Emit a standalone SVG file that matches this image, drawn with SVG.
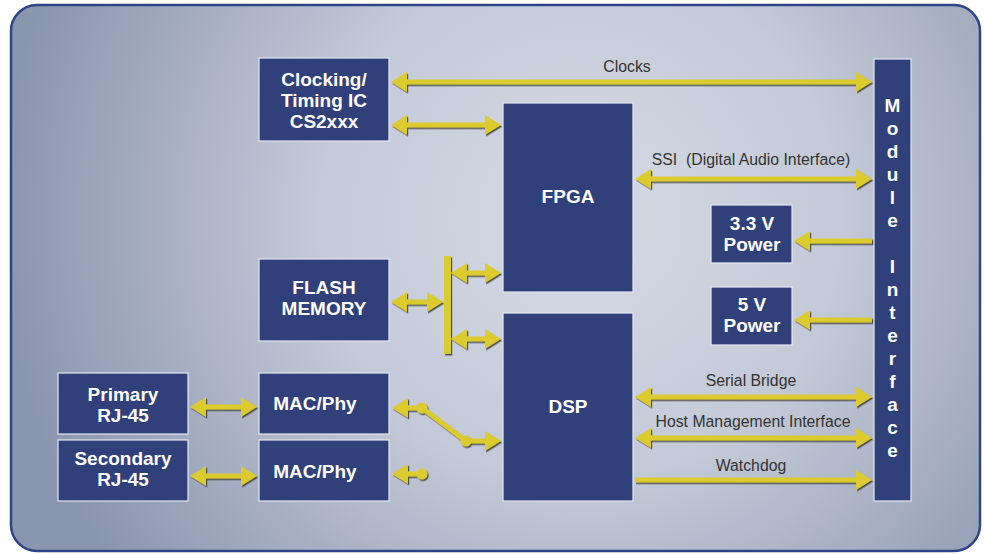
<svg xmlns="http://www.w3.org/2000/svg" width="984" height="554" viewBox="0 0 984 554">
<defs>
<radialGradient id="bg" cx="580" cy="220" r="580" gradientUnits="userSpaceOnUse">
<stop offset="0" stop-color="#d6dbe5"/>
<stop offset="0.45" stop-color="#c3c9d7"/>
<stop offset="1" stop-color="#8a96ae"/>
</radialGradient>
<filter id="sh" x="-10%" y="-50%" width="120%" height="200%">
<feDropShadow dx="1.2" dy="1.5" stdDeviation="0.6" flood-color="#3a3a30" flood-opacity="0.85"/>
</filter>
<style>
.node rect{fill:#2f407a;stroke:#e4e8f0;stroke-width:1.2}
.node text{fill:#fff;font-family:"Liberation Sans",Arial,sans-serif;font-weight:bold;font-size:19px;text-anchor:middle}
.conn polygon,.conn rect,.conn circle,.conn line{fill:#dccb2e}
.conn line{stroke:#dccb2e;stroke-width:5}
.lbl{fill:#333;font-family:"Liberation Sans",Arial,sans-serif;font-size:15.8px;text-anchor:middle}
</style>
</defs>
<rect x="11" y="5" width="969" height="546" rx="26" fill="url(#bg)" stroke="#2e4488" stroke-width="2.5"/>

<g id="clocking" class="node"><rect x="259" y="58" width="130" height="83"/><text x="324" y="86">Clocking/</text><text x="324" y="107">Timing IC</text><text x="324" y="128">CS2xxx</text></g>
<g id="fpga" class="node"><rect x="503" y="103" width="130" height="189"/><text x="568" y="203">FPGA</text></g>
<g id="flash" class="node"><rect x="259" y="259" width="130" height="82"/><text x="324" y="294">FLASH</text><text x="324" y="315">MEMORY</text></g>
<g id="dsp" class="node"><rect x="503" y="313" width="130" height="188"/><text x="568" y="413">DSP</text></g>
<g id="primary" class="node"><rect x="58" y="373" width="130" height="61"/><text x="123" y="401">Primary</text><text x="123" y="422">RJ-45</text></g>
<g id="secondary" class="node"><rect x="58" y="440" width="130" height="61"/><text x="123" y="465">Secondary</text><text x="123" y="486">RJ-45</text></g>
<g id="mac1" class="node"><rect x="259" y="373" width="130" height="61"/><text x="315" y="410">MAC/Phy</text></g>
<g id="mac2" class="node"><rect x="259" y="440" width="130" height="61"/><text x="315" y="478">MAC/Phy</text></g>
<g id="p33" class="node"><rect x="711" y="205" width="81" height="58"/><text x="752" y="230">3.3 V</text><text x="752" y="251">Power</text></g>
<g id="p5" class="node"><rect x="711" y="287" width="81" height="58"/><text x="752" y="311">5 V</text><text x="752" y="332">Power</text></g>
<g id="module" class="node"><rect x="874" y="59" width="37" height="442"/>
<text x="892.5" y="112">M</text><text x="892.5" y="135">o</text><text x="892.5" y="158">d</text><text x="892.5" y="181">u</text><text x="892.5" y="204">l</text><text x="892.5" y="227">e</text>
<text x="892.5" y="273">I</text><text x="892.5" y="296">n</text><text x="892.5" y="319">t</text><text x="892.5" y="342">e</text><text x="892.5" y="365">r</text><text x="892.5" y="388">f</text><text x="892.5" y="411">a</text><text x="892.5" y="434">c</text><text x="892.5" y="457">e</text></g>

<g id="connectors" class="conn" filter="url(#sh)">
<polygon points="391,82 407,72 407,79.5 856,79.5 856,72 872,82 856,92 856,84.5 407,84.5 407,92"/>
<polygon points="391,125 407,115 407,122.5 485,122.5 485,115 501,125 485,135 485,127.5 407,127.5 407,135"/>
<polygon points="635,179 651,169 651,176.5 856,176.5 856,169 872,179 856,189 856,181.5 651,181.5 651,189"/>
<polygon points="794,241 810,231 810,238.5 872,238.5 872,243.5 810,243.5 810,251"/>
<polygon points="794,320 810,310 810,317.5 872,317.5 872,322.5 810,322.5 810,330"/>
<polygon points="635,397 651,387 651,394.5 856,394.5 856,387 872,397 856,407 856,399.5 651,399.5 651,407"/>
<polygon points="635,438 651,428 651,435.5 856,435.5 856,428 872,438 856,448 856,440.5 651,440.5 651,448"/>
<polygon points="635,477.5 856,477.5 856,470 872,480 856,490 856,482.5 635,482.5"/>
<rect x="444" y="256" width="7" height="98"/>
<polygon points="391,302 407,292 407,299.5 427,299.5 427,292 443,302 427,312 427,304.5 407,304.5 407,312"/>
<polygon points="451,273 467,263 467,270.5 485,270.5 485,263 501,273 485,283 485,275.5 467,275.5 467,283"/>
<polygon points="451,339 467,329 467,336.5 485,336.5 485,329 501,339 485,349 485,341.5 467,341.5 467,349"/>
<polygon points="190,407 206,397 206,404.5 241,404.5 241,397 257,407 241,417 241,409.5 206,409.5 206,417"/>
<polygon points="190,476 206,466 206,473.5 241,473.5 241,466 257,476 241,486 241,478.5 206,478.5 206,486"/>
<polygon points="392,408 408,398 408,405.5 422,405.5 422,410.5 408,410.5 408,418"/>
<line x1="422" y1="408" x2="466" y2="441" stroke-width="4"/>
<circle cx="422" cy="408" r="5.5"/>
<circle cx="466" cy="441" r="5.5"/>
<polygon points="466,438.5 485,438.5 485,431 501,441 485,451 485,443.5 466,443.5"/>
<polygon points="392,474 408,464 408,471.5 422,471.5 422,476.5 408,476.5 408,484"/>
<circle cx="422" cy="474" r="5.5"/>
</g>

<text class="lbl" x="627" y="72">Clocks</text>
<text class="lbl" x="751" y="165" xml:space="preserve">SSI  (Digital Audio Interface)</text>
<text class="lbl" x="751" y="386">Serial Bridge</text>
<text class="lbl" x="753" y="427">Host Management Interface</text>
<text class="lbl" x="751" y="471">Watchdog</text>
</svg>
